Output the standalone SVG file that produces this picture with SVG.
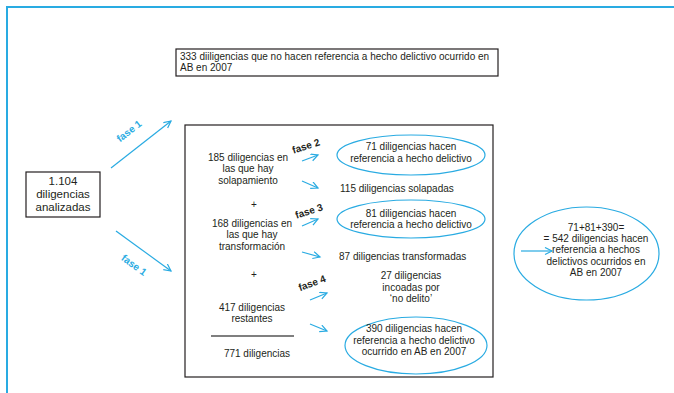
<svg xmlns="http://www.w3.org/2000/svg" width="674" height="393" viewBox="0 0 674 393">
<defs>
<style>
text{font-family:"Liberation Sans",Arial,sans-serif;font-size:10px;fill:#231f20}
.c{text-anchor:middle}
.big{font-size:11.5px}
.fb{font-weight:bold;fill:#29abe2;text-anchor:middle}
.fk{font-weight:bold;text-anchor:middle}
.box{fill:#fff;stroke:#231f20;stroke-width:1.2}
.ell{fill:none;stroke:#29abe2;stroke-width:1.2}
.arr{stroke:#29abe2;stroke-width:1.2;fill:none;marker-end:url(#ah)}
</style>
<marker id="ah" markerUnits="userSpaceOnUse" markerWidth="12" markerHeight="12" refX="8" refY="4" orient="auto">
<path d="M1,0.5 L8,4 L1,7.5" fill="none" stroke="#29abe2" stroke-width="1.2"/>
</marker>
</defs>
<path d="M7,393 V7 H674" fill="none" stroke="#29abe2" stroke-width="2"/>

<g id="top-note">
<rect class="box" x="176" y="49" width="322" height="27"/>
<text x="180" y="60">333 diiligencias que no hacen referencia a hecho delictivo ocurrido en</text>
<text x="180" y="71">AB en 2007</text>
</g>

<g id="start">
<rect class="box" x="26" y="172" width="74" height="45"/>
<text class="c big" x="63" y="185">1.104</text>
<text class="c big" x="63" y="198">diligencias</text>
<text class="c big" x="63" y="211">analizadas</text>
</g>

<g id="main-box">
<rect class="box" x="185" y="125" width="308" height="252"/>
<text class="c" x="248" y="161">185 diligencias en</text>
<text class="c" x="248" y="172">las que hay</text>
<text class="c" x="248" y="184">solapamiento</text>
<text class="c" x="254" y="208">+</text>
<text class="c" x="252" y="227">168 diligencias en</text>
<text class="c" x="252" y="238">las que hay</text>
<text class="c" x="252" y="250">transformación</text>
<text class="c" x="254" y="278">+</text>
<text class="c" x="252" y="311">417 diligencias</text>
<text class="c" x="252" y="322">restantes</text>
<line x1="211" y1="336" x2="294" y2="336" stroke="#555" stroke-width="1.4"/>
<text class="c" x="257" y="357">771 diligencias</text>
</g>

<g id="r71">
<ellipse class="ell" cx="411" cy="155" rx="74" ry="20"/>
<text class="c" x="411" y="150">71 diligencias hacen</text>
<text class="c" x="411" y="162">referencia a hecho delictivo</text>
</g>
<g id="r115"><text x="340" y="192">115 diligencias solapadas</text></g>
<g id="r81">
<ellipse class="ell" cx="411" cy="219" rx="74" ry="19"/>
<text class="c" x="411" y="217">81 diligencias hacen</text>
<text class="c" x="411" y="228">referencia a hecho delictivo</text>
</g>
<g id="r87"><text x="339" y="260">87 diligencias transformadas</text></g>
<g id="r27">
<text class="c" x="411" y="279">27 diligencias</text>
<text class="c" x="411" y="291">incoadas por</text>
<text class="c" x="411" y="302">‘no delito’</text>
</g>
<g id="r390">
<ellipse class="ell" cx="416" cy="345.5" rx="71" ry="28.5"/>
<text class="c" x="414" y="332">390 diligencias hacen</text>
<text class="c" x="414" y="344">referencia a hecho delictivo</text>
<text class="c" x="414" y="355">ocurrido en AB en 2007</text>
</g>
<g id="total">
<ellipse class="ell" cx="586.5" cy="253.5" rx="72.5" ry="46.5"/>
<text class="c" x="596" y="231">71+81+390=</text>
<text class="c" x="596" y="242">= 542 diligencias hacen</text>
<text class="c" x="596" y="253">referencia a hechos</text>
<text class="c" x="596" y="265">delictivos ocurridos en</text>
<text class="c" x="596" y="276">AB en 2007</text>
</g>

<g id="connectors">
<line class="arr" x1="111" y1="168" x2="171" y2="121"/>
<line class="arr" x1="116" y1="231" x2="171" y2="271"/>
<line class="arr" x1="302" y1="161" x2="318" y2="155"/>
<line class="arr" x1="302" y1="181" x2="318" y2="188"/>
<line class="arr" x1="302" y1="226" x2="318" y2="219"/>
<line class="arr" x1="302" y1="252" x2="320" y2="257"/>
<line class="arr" x1="310" y1="300" x2="327" y2="293"/>
<line class="arr" x1="310" y1="324" x2="327" y2="331"/>
<line class="arr" x1="521" y1="251" x2="552" y2="251" stroke-width="1.6"/>
<text class="fb" transform="translate(129,131) rotate(-38)" y="3.5">fase 1</text>
<text class="fb" transform="translate(134,265) rotate(36)" y="3.5">fase 1</text>
<text class="fk" transform="translate(306,146) rotate(-18)" y="3.5">fase 2</text>
<text class="fk" transform="translate(309,211) rotate(-18)" y="3.5">fase 3</text>
<text class="fk" transform="translate(312,283) rotate(-20)" y="3.5">fase 4</text>
</g>
</svg>
